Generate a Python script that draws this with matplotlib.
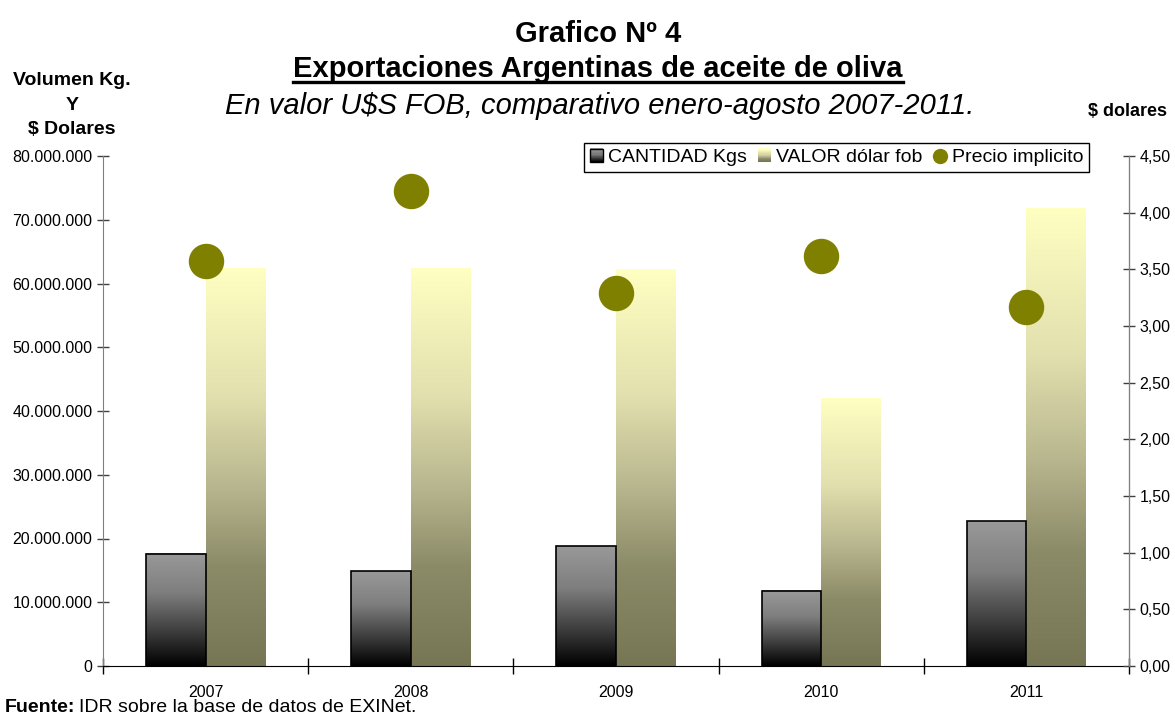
import matplotlib
matplotlib.use("Agg")
import matplotlib.pyplot as plt
import numpy as np
from matplotlib.colors import LinearSegmentedColormap
from matplotlib.legend_handler import HandlerBase
from matplotlib.patches import Rectangle
from matplotlib.lines import Line2D
from matplotlib.ticker import FuncFormatter, FixedLocator

plt.rcParams['font.family'] = ['Liberation Sans', 'DejaVu Sans']

years = ["2007", "2008", "2009", "2010", "2011"]
cantidad_kgs = [17.6e6, 14.9e6, 18.8e6, 11.8e6, 22.7e6]
valor_fob = [62.4e6, 62.4e6, 62.2e6, 42.0e6, 71.8e6]
precio_implicito = [3.57, 4.19, 3.29, 3.62, 3.17]

left_ticks = [0, 10e6, 20e6, 30e6, 40e6, 50e6, 60e6, 70e6, 80e6]
right_ticks = [0, 0.5, 1.0, 1.5, 2.0, 2.5, 3.0, 3.5, 4.0, 4.5]

cmap_cant = LinearSegmentedColormap.from_list(
    "cant", [(0.0, "#000000"), (0.3, "#3c3c3c"), (0.65, "#7e7e7e"), (1.0, "#999999")])
cmap_val = LinearSegmentedColormap.from_list(
    "val", [(0.0, "#767655"), (0.25, "#8c8b68"), (0.45, "#b8b68e"), (0.68, "#e2e0ae"), (1.0, "#ffffc2")])
olive = "#808000"

W, H = 1175, 718
fig = plt.figure(figsize=(W / 100, H / 100), dpi=100)
ax = fig.add_axes([103 / W, 1 - 666 / H, (1129 - 103) / W, (666 - 156) / H])
ax2 = ax.twinx()

x = np.arange(len(years))
bw = 0.29
bars_c = ax.bar(x - bw / 2, cantidad_kgs, width=bw, facecolor='none', edgecolor='black', linewidth=1.2, zorder=3)
bars_v = ax.bar(x + bw / 2, valor_fob, width=bw, facecolor='none', edgecolor='none', zorder=3)

grad = np.linspace(0, 1, 256).reshape(-1, 1)
for bars, cm in ((bars_c, cmap_cant), (bars_v, cmap_val)):
    for r in bars:
        bx, by, bwid, bh = r.get_x(), r.get_y(), r.get_width(), r.get_height()
        ax.imshow(grad, extent=[bx, bx + bwid, by, by + bh], origin='lower', aspect='auto',
                  cmap=cm, zorder=2, interpolation='bilinear')

ax.set_xlim(-0.5, len(years) - 0.5)
ax.set_ylim(0, 80e6)
ax2.set_ylim(0, 4.5)

ax2.plot(x, precio_implicito, 'o', color=olive, ms=24.5, ls='none', zorder=5)

# axes styling
for a in (ax, ax2):
    a.spines['top'].set_visible(False)
ax.spines['left'].set_color('#808080')
ax2.spines['right'].set_color('#808080')
ax.spines['bottom'].set_color('black')
ax2.spines['left'].set_visible(False)
ax2.spines['bottom'].set_visible(False)

ax.yaxis.set_major_locator(FixedLocator(left_ticks))
ax.yaxis.set_major_formatter(FuncFormatter(lambda v, p: f"{int(round(v)):,}".replace(",", ".")))
ax2.yaxis.set_major_locator(FixedLocator(right_ticks))
ax2.yaxis.set_major_formatter(FuncFormatter(lambda v, p: f"{v:.2f}".replace(".", ",")))
ax.tick_params(axis='y', direction='inout', length=9, width=1, color='#404040', labelsize=11.5, pad=3)
ax2.tick_params(axis='y', direction='inout', length=9, width=1, color='#404040', labelsize=11.5, pad=3)

ax.set_xticks(x)
ax.set_xticklabels(years)
ax.set_xticks(np.arange(-0.5, len(years), 1.0), minor=True)
ax.tick_params(axis='x', which='major', length=0, labelsize=11.5, pad=14)
ax.tick_params(axis='x', which='minor', direction='inout', length=12, width=1, color='black')

# legend with gradient handles
class GradHandler(HandlerBase):
    def __init__(self, cmap, edge):
        super().__init__()
        self.cmap = cmap
        self.edge = edge

    def create_artists(self, legend, orig_handle, xdescent, ydescent, width, height, fontsize, trans):
        s = min(width, height) * 1.0
        x0 = -xdescent + (width - s) / 2
        y0 = -ydescent + (height - s) / 2
        arts = []
        n = 12
        for i in range(n):
            c = self.cmap(i / (n - 1))
            arts.append(Rectangle((x0, y0 + s * i / n), s, s / n + 0.3, facecolor=c,
                                  edgecolor='none', transform=trans))
        if self.edge:
            arts.append(Rectangle((x0, y0), s, s, facecolor='none', edgecolor='black',
                                  linewidth=1, transform=trans))
        return arts

h1 = Rectangle((0, 0), 1, 1)
h2 = Rectangle((0, 0), 1, 1)
h3 = Line2D([], [], marker='o', color=olive, ls='none', ms=10)
leg = ax2.legend([h1, h2, h3], ["CANTIDAD Kgs", "VALOR dólar fob", "Precio implicito"],
                 handler_map={h1: GradHandler(cmap_cant, True), h2: GradHandler(cmap_val, False)},
                 ncol=3, loc='upper right', bbox_to_anchor=(1089 / W, 1 - 143 / H),
                 bbox_transform=fig.transFigure,
                 fancybox=False, shadow=False, framealpha=1, edgecolor='black', fontsize=14,
                 handlelength=0.7, handletextpad=0.25, columnspacing=0.55, borderpad=0.3, borderaxespad=0)
leg.get_frame().set_linewidth(1.0)
leg.set_zorder(10)

# titles
cx = 598 / W
fig.text(cx, 1 - 34 / H, "Grafico Nº 4", ha='center', va='center', fontsize=21, fontweight='bold')
t2 = fig.text(cx, 1 - 69 / H, "Exportaciones Argentinas de aceite de oliva", ha='center', va='center',
              fontsize=21, fontweight='bold')
fig.text(600 / W, 1 - 106 / H, "En valor U$S FOB, comparativo enero-agosto 2007-2011.", ha='center',
         va='center', fontsize=21, fontstyle='italic')

fig.text(72 / W, 1 - 105 / H, "Volumen Kg.\nY\n$ Dolares", ha='center', va='center', fontsize=14,
         fontweight='bold', linespacing=1.55)
fig.text(1128 / W, 1 - 112 / H, "$ dolares", ha='center', va='center', fontsize=13, fontweight='bold')

ft = fig.text(5 / W, 1 - 708 / H, "Fuente:", ha='left', va='center', fontsize=14, fontweight='bold')
fig.canvas.draw()
r = fig.canvas.get_renderer()
bb = ft.get_window_extent(r)
fig.text((bb.x1 + 4) / W, 1 - 708 / H, "IDR sobre la base de datos de EXINet.", ha='left', va='center',
         fontsize=14)

# underline for title line 2
bb2 = t2.get_window_extent(r)
uy = bb2.y0 + 1
fig.add_artist(Line2D([bb2.x0 / W, bb2.x1 / W], [uy / H, uy / H], transform=fig.transFigure,
                      color='black', lw=2.4))

fig.savefig("out.png", dpi=100)
